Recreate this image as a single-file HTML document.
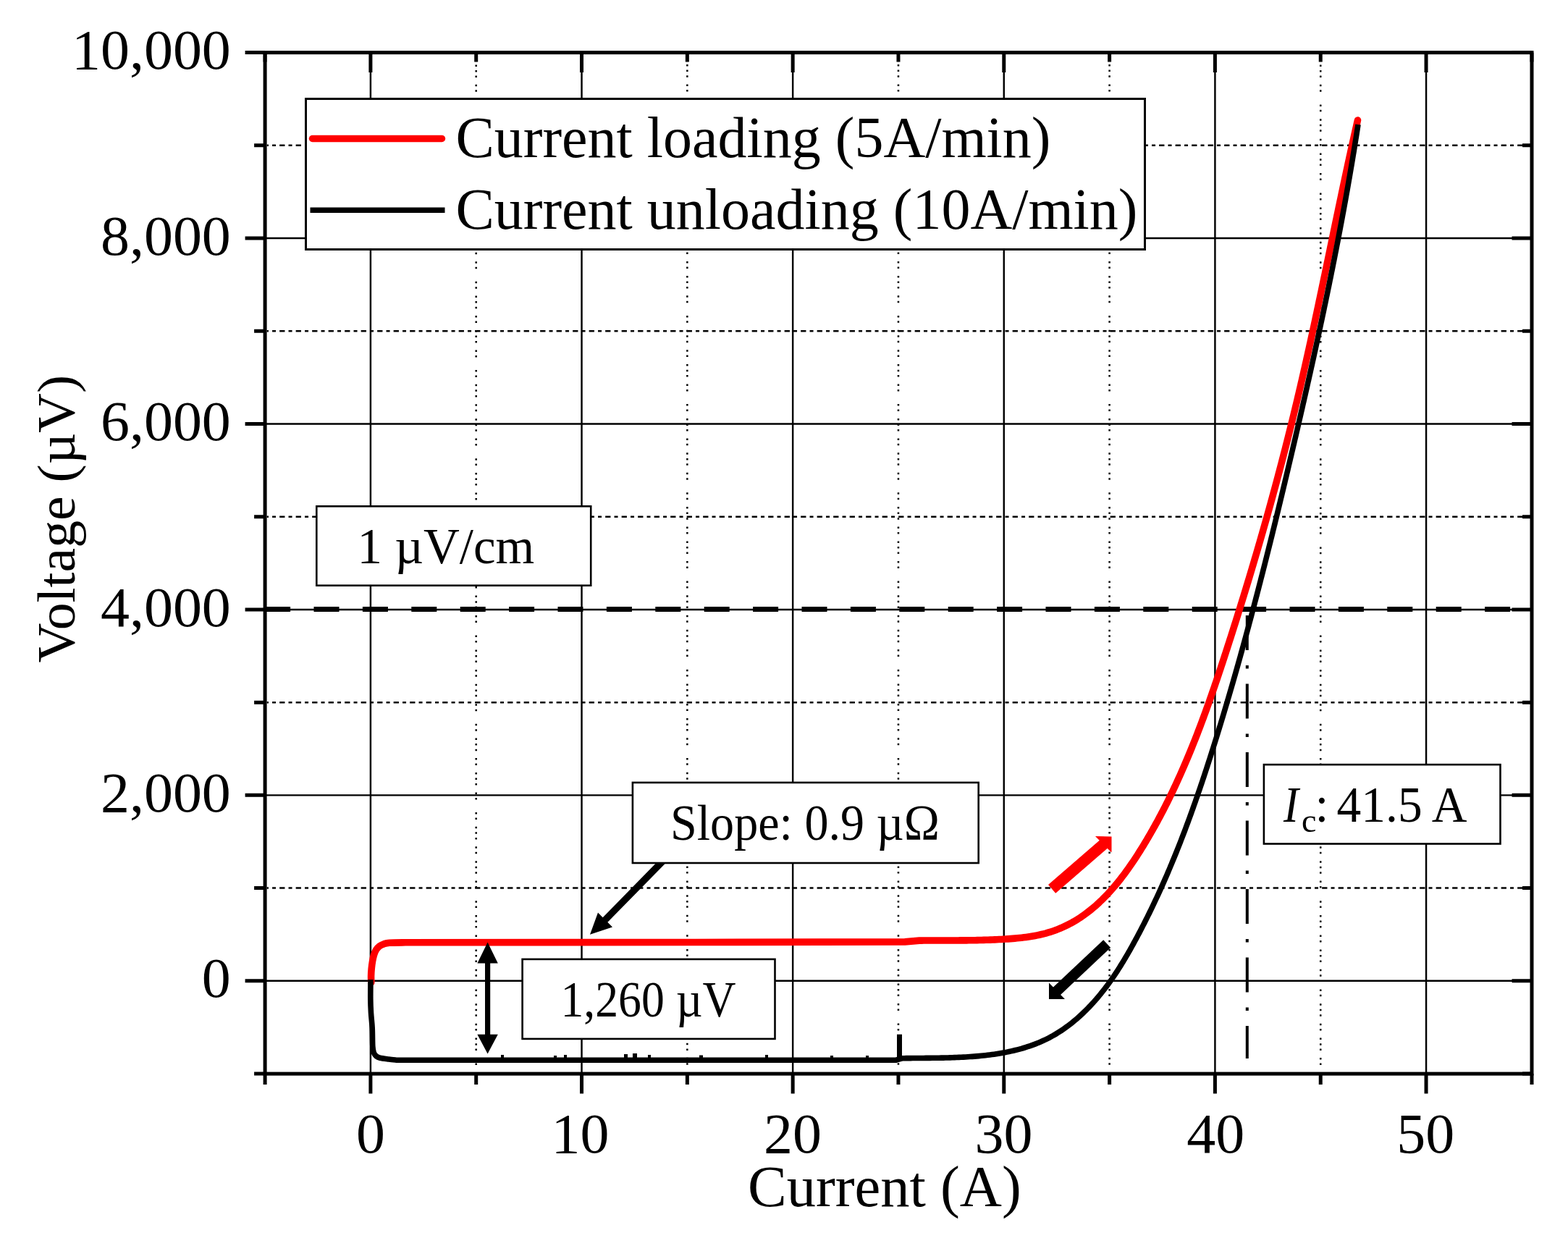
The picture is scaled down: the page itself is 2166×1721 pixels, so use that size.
<!DOCTYPE html>
<html><head><meta charset="utf-8"><title>Voltage vs Current</title>
<style>html,body{margin:0;padding:0;background:#fff;overflow:hidden;}svg{display:block;}</style></head>
<body>
<svg width="2166" height="1721" viewBox="0 0 2166 1721" font-family="'Liberation Serif', serif">
<rect width="2166" height="1721" fill="#fff"/>
<g stroke="#000" stroke-width="3" fill="none">
<path d="M657.71 75.1V1480.6" stroke-width="2.5" stroke-dasharray="2.5 4.9 2.5 9.9 2.5 5 2.5 5.1 2.5 9.9 2.5 4.9 2.5 10 2.5 5.1 2.5 4.9 2.5 9.9 2.5 5 2.5 17.6" stroke-dashoffset="52.9"/>
<path d="M949.35 75.1V1480.6" stroke-width="2.5" stroke-dasharray="2.5 4.9 2.5 9.9 2.5 5 2.5 5.1 2.5 9.9 2.5 4.9 2.5 10 2.5 5.1 2.5 4.9 2.5 9.9 2.5 5 2.5 17.6" stroke-dashoffset="5.8"/>
<path d="M1240.97 75.1V1480.6" stroke-width="2.5" stroke-dasharray="2.5 4.9 2.5 9.9 2.5 5 2.5 5.1 2.5 9.9 2.5 4.9 2.5 10 2.5 5.1 2.5 4.9 2.5 9.9 2.5 5 2.5 17.6" stroke-dashoffset="5.8"/>
<path d="M1532.61 75.1V1480.6" stroke-width="2.5" stroke-dasharray="2.5 4.9 2.5 9.9 2.5 5 2.5 5.1 2.5 9.9 2.5 4.9 2.5 10 2.5 5.1 2.5 4.9 2.5 9.9 2.5 5 2.5 17.6" stroke-dashoffset="5.8"/>
<path d="M1824.24 75.1V1480.6" stroke-width="2.5" stroke-dasharray="2.5 4.9 2.5 9.9 2.5 5 2.5 5.1 2.5 9.9 2.5 4.9 2.5 10 2.5 5.1 2.5 4.9 2.5 9.9 2.5 5 2.5 17.6" stroke-dashoffset="52.9"/>
<path d="M368.6 200.84H2113.5" stroke-width="2.5" stroke-dasharray="5 5.1 7.3 5.1" stroke-dashoffset="15.05"/>
<path d="M368.6 457.27H2113.5" stroke-width="2.5" stroke-dasharray="5 5.1 7.3 5.1" stroke-dashoffset="15.05"/>
<path d="M368.6 713.71H2113.5" stroke-width="2.5" stroke-dasharray="5 5.1 7.3 5.1" stroke-dashoffset="15.05"/>
<path d="M368.6 970.15H2113.5" stroke-width="2.5" stroke-dasharray="5 5.1 7.3 5.1" stroke-dashoffset="15.05"/>
<path d="M368.6 1226.58H2113.5" stroke-width="2.5" stroke-dasharray="5 5.1 7.3 5.1" stroke-dashoffset="15.05"/>
</g>
<g stroke="#000" stroke-width="2.45" fill="none">
<path d="M511.9 72.6V1483.1"/>
<path d="M803.53 72.6V1483.1"/>
<path d="M1095.16 72.6V1483.1"/>
<path d="M1386.79 72.6V1483.1"/>
<path d="M1678.42 72.6V1483.1"/>
<path d="M1970.05 72.6V1483.1"/>
<path d="M366.1 329.06H2116"/>
<path d="M366.1 585.49H2116"/>
<path d="M366.1 841.93H2116"/>
<path d="M366.1 1098.36H2116"/>
<path d="M366.1 1354.8H2116"/>
</g>
<path d="M366.1 841.4H2116" stroke="#000" stroke-width="7" stroke-dasharray="35 32.4" fill="none"/>
<path d="M1722.8 850V1462" stroke="#000" stroke-width="4" stroke-dasharray="48 21 4.5 21" fill="none"/>
<path d="M512.8 1357 C512.77 1355.5 512.53 1351.17 512.6 1348 C512.67 1344.83 512.88 1341.33 513.2 1338 C513.52 1334.67 513.95 1331.17 514.5 1328 C515.05 1324.83 515.67 1321.67 516.5 1319 C517.33 1316.33 518.25 1314 519.5 1312 C520.75 1310 522.25 1308.33 524 1307 C525.75 1305.67 527.67 1304.78 530 1304 C532.33 1303.22 533 1302.67 538 1302.3 C543 1301.93 556.33 1301.88 560 1301.8 L960 1301.5 L1250 1300.9 L1270.01 1299.11 L1273.04 1299.08 L1276.07 1299.06 L1279.08 1299.04 L1282.08 1299.02 L1285.08 1299.01 L1288.06 1299 L1291.04 1299 L1294.01 1298.99 L1296.97 1298.99 L1299.93 1298.98 L1302.89 1298.98 L1305.83 1298.98 L1308.78 1298.98 L1311.72 1298.97 L1314.66 1298.97 L1317.6 1298.96 L1320.54 1298.95 L1323.47 1298.94 L1326.41 1298.92 L1329.35 1298.9 L1332.29 1298.88 L1335.23 1298.85 L1338.18 1298.82 L1341.13 1298.78 L1344.08 1298.74 L1347.04 1298.69 L1350 1298.63 L1352.97 1298.57 L1355.95 1298.49 L1358.94 1298.41 L1361.93 1298.32 L1364.93 1298.23 L1367.95 1298.12 L1370.97 1298 L1374.01 1297.87 L1377.05 1297.73 L1380.11 1297.58 L1383.18 1297.42 L1386.27 1297.24 L1389.37 1297.05 L1392.48 1296.84 L1395.59 1296.62 L1398.71 1296.38 L1401.83 1296.11 L1404.96 1295.82 L1408.08 1295.51 L1411.2 1295.16 L1414.32 1294.79 L1417.42 1294.39 L1420.52 1293.96 L1423.6 1293.49 L1426.67 1292.98 L1429.73 1292.43 L1432.76 1291.85 L1435.77 1291.22 L1438.76 1290.54 L1441.73 1289.82 L1444.67 1289.06 L1447.57 1288.24 L1450.45 1287.37 L1453.29 1286.45 L1456.11 1285.49 L1458.9 1284.47 L1461.65 1283.4 L1464.38 1282.29 L1467.07 1281.13 L1469.74 1279.93 L1472.38 1278.68 L1474.99 1277.39 L1477.57 1276.05 L1480.13 1274.67 L1482.66 1273.25 L1485.16 1271.78 L1487.63 1270.28 L1490.08 1268.74 L1492.51 1267.15 L1494.9 1265.53 L1497.27 1263.87 L1499.62 1262.18 L1501.94 1260.44 L1504.24 1258.68 L1506.51 1256.88 L1508.76 1255.04 L1510.99 1253.17 L1513.19 1251.27 L1515.37 1249.33 L1517.53 1247.37 L1519.66 1245.37 L1521.77 1243.35 L1523.86 1241.3 L1525.93 1239.22 L1527.98 1237.11 L1530.01 1234.97 L1532.02 1232.81 L1534.01 1230.62 L1535.98 1228.41 L1537.93 1226.18 L1539.86 1223.92 L1541.77 1221.64 L1543.66 1219.34 L1545.54 1217.02 L1547.39 1214.68 L1549.23 1212.32 L1551.05 1209.94 L1552.86 1207.54 L1554.65 1205.13 L1556.42 1202.7 L1558.18 1200.26 L1559.92 1197.8 L1561.65 1195.32 L1563.36 1192.83 L1565.05 1190.34 L1566.74 1187.82 L1568.4 1185.3 L1570.06 1182.77 L1571.7 1180.23 L1573.33 1177.67 L1574.94 1175.11 L1576.54 1172.55 L1578.14 1169.97 L1579.71 1167.39 L1581.28 1164.81 L1582.84 1162.22 L1584.38 1159.63 L1585.92 1157.03 L1587.44 1154.42 L1588.95 1151.81 L1590.45 1149.2 L1591.94 1146.58 L1593.42 1143.96 L1594.89 1141.33 L1596.35 1138.7 L1597.8 1136.07 L1599.24 1133.43 L1600.66 1130.78 L1602.08 1128.13 L1603.49 1125.48 L1604.89 1122.82 L1606.28 1120.16 L1607.66 1117.5 L1609.03 1114.83 L1610.39 1112.16 L1611.74 1109.48 L1613.08 1106.8 L1614.41 1104.11 L1615.73 1101.42 L1617.05 1098.73 L1618.35 1096.04 L1619.65 1093.34 L1620.94 1090.63 L1622.22 1087.93 L1623.49 1085.21 L1624.75 1082.5 L1626 1079.78 L1627.25 1077.06 L1628.49 1074.34 L1629.72 1071.61 L1630.94 1068.88 L1632.15 1066.14 L1633.36 1063.41 L1634.56 1060.66 L1635.75 1057.92 L1636.93 1055.17 L1638.11 1052.42 L1639.28 1049.67 L1640.44 1046.91 L1641.6 1044.16 L1642.74 1041.39 L1643.89 1038.63 L1645.02 1035.86 L1646.15 1033.09 L1647.27 1030.32 L1648.38 1027.54 L1649.49 1024.77 L1650.6 1021.99 L1651.69 1019.2 L1652.78 1016.42 L1653.87 1013.63 L1654.95 1010.84 L1656.02 1008.05 L1657.09 1005.25 L1658.15 1002.45 L1659.2 999.66 L1660.25 996.85 L1661.3 994.05 L1662.34 991.24 L1663.38 988.44 L1664.41 985.63 L1665.43 982.82 L1666.45 980 L1667.47 977.19 L1668.48 974.37 L1669.49 971.55 L1670.49 968.73 L1671.49 965.91 L1672.48 963.09 L1673.47 960.26 L1674.46 957.43 L1675.44 954.61 L1676.42 951.78 L1677.39 948.94 L1678.36 946.11 L1679.33 943.28 L1680.29 940.44 L1681.25 937.61 L1682.21 934.77 L1683.17 931.93 L1684.12 929.09 L1685.07 926.25 L1686.01 923.41 L1686.95 920.57 L1687.89 917.72 L1688.83 914.88 L1689.77 912.03 L1690.7 909.19 L1691.63 906.34 L1692.56 903.49 L1693.48 900.64 L1694.41 897.79 L1695.33 894.94 L1696.25 892.09 L1697.17 889.24 L1698.09 886.39 L1699 883.54 L1699.92 880.69 L1700.83 877.84 L1701.74 874.99 L1702.65 872.13 L1703.56 869.28 L1704.46 866.42 L1705.37 863.57 L1706.27 860.72 L1707.17 857.86 L1708.07 855 L1708.96 852.15 L1709.86 849.29 L1710.75 846.43 L1711.65 843.58 L1712.54 840.72 L1713.43 837.86 L1714.31 835 L1715.2 832.14 L1716.08 829.28 L1716.96 826.42 L1717.84 823.56 L1718.72 820.7 L1719.6 817.83 L1720.47 814.97 L1721.34 812.11 L1722.21 809.24 L1723.08 806.38 L1723.95 803.51 L1724.82 800.65 L1725.68 797.78 L1726.54 794.92 L1727.4 792.05 L1728.26 789.18 L1729.12 786.32 L1729.97 783.45 L1730.83 780.58 L1731.68 777.71 L1732.53 774.84 L1733.37 771.97 L1734.22 769.1 L1735.06 766.23 L1735.91 763.36 L1736.75 760.48 L1737.58 757.61 L1738.42 754.74 L1739.25 751.87 L1740.09 748.99 L1740.92 746.12 L1741.75 743.24 L1742.57 740.36 L1743.4 737.49 L1744.22 734.61 L1745.04 731.73 L1745.86 728.86 L1746.68 725.98 L1747.49 723.1 L1748.31 720.22 L1749.12 717.34 L1749.93 714.46 L1750.74 711.58 L1751.54 708.7 L1752.35 705.81 L1753.15 702.93 L1753.95 700.05 L1754.74 697.16 L1755.54 694.28 L1756.33 691.39 L1757.13 688.51 L1757.92 685.62 L1758.7 682.74 L1759.49 679.85 L1760.27 676.96 L1761.06 674.07 L1761.83 671.18 L1762.61 668.3 L1763.39 665.41 L1764.16 662.52 L1764.93 659.62 L1765.7 656.73 L1766.47 653.84 L1767.24 650.95 L1768 648.06 L1768.76 645.16 L1769.52 642.27 L1770.28 639.37 L1771.03 636.48 L1771.79 633.58 L1772.54 630.68 L1773.29 627.79 L1774.03 624.89 L1774.78 621.99 L1775.52 619.09 L1776.26 616.19 L1777 613.29 L1777.74 610.39 L1778.47 607.49 L1779.2 604.59 L1779.93 601.69 L1780.66 598.78 L1781.38 595.88 L1782.11 592.98 L1782.83 590.07 L1783.55 587.17 L1784.27 584.26 L1784.98 581.35 L1785.69 578.45 L1786.4 575.54 L1787.11 572.63 L1787.82 569.72 L1788.52 566.81 L1789.22 563.9 L1789.92 560.99 L1790.62 558.08 L1791.32 555.17 L1792.01 552.26 L1792.7 549.34 L1793.39 546.43 L1794.07 543.52 L1794.76 540.6 L1795.44 537.69 L1796.12 534.77 L1796.8 531.85 L1797.47 528.94 L1798.15 526.02 L1798.82 523.1 L1799.49 520.18 L1800.15 517.26 L1800.82 514.34 L1801.48 511.42 L1802.15 508.5 L1802.81 505.58 L1803.47 502.66 L1804.12 499.74 L1804.78 496.82 L1805.43 493.89 L1806.08 490.97 L1806.73 488.05 L1807.38 485.12 L1808.03 482.2 L1808.68 479.27 L1809.32 476.35 L1809.96 473.42 L1810.6 470.5 L1811.24 467.57 L1811.88 464.64 L1812.52 461.72 L1813.16 458.79 L1813.79 455.86 L1814.42 452.93 L1815.06 450.01 L1815.69 447.08 L1816.32 444.15 L1816.95 441.22 L1817.57 438.29 L1818.2 435.36 L1818.83 432.43 L1819.45 429.5 L1820.08 426.57 L1820.7 423.64 L1821.32 420.71 L1821.94 417.78 L1822.56 414.85 L1823.18 411.92 L1823.8 408.98 L1824.42 406.05 L1825.03 403.12 L1825.65 400.19 L1826.27 397.26 L1826.88 394.32 L1827.5 391.39 L1828.11 388.46 L1828.72 385.53 L1829.34 382.59 L1829.95 379.66 L1830.56 376.73 L1831.17 373.8 L1831.79 370.86 L1832.4 367.93 L1833.01 365 L1833.62 362.07 L1834.23 359.13 L1834.84 356.2 L1835.45 353.27 L1836.06 350.33 L1836.67 347.4 L1837.28 344.47 L1837.89 341.54 L1838.49 338.6 L1839.1 335.67 L1839.71 332.74 L1840.32 329.8 L1840.93 326.87 L1841.54 323.94 L1842.15 321.01 L1842.76 318.08 L1843.37 315.14 L1843.98 312.21 L1844.59 309.28 L1845.2 306.35 L1845.81 303.42 L1846.43 300.49 L1847.04 297.56 L1847.65 294.62 L1848.26 291.69 L1848.88 288.76 L1849.49 285.83 L1850.1 282.9 L1850.72 279.97 L1851.34 277.04 L1851.95 274.11 L1852.57 271.19 L1853.19 268.26 L1853.8 265.33 L1854.42 262.4 L1855.04 259.47 L1855.66 256.55 L1856.29 253.62 L1856.91 250.69 L1857.53 247.76 L1858.16 244.84 L1858.78 241.91 L1859.41 238.99 L1860.04 236.06 L1860.66 233.14 L1861.29 230.21 L1861.92 227.29 L1862.56 224.37 L1863.19 221.44 L1863.82 218.52 L1864.46 215.6 L1865.1 212.68 L1865.73 209.75 L1866.37 206.83 L1867.01 203.91 L1867.66 200.99 L1868.3 198.07 L1868.95 195.16 L1869.59 192.24 L1870.24 189.32 L1870.89 186.4 L1871.54 183.49 L1872.19 180.57 L1872.85 177.65 L1873.51 174.74 L1874.16 171.82 L1874.82 168.91 L1875.49 166" stroke="#ff0000" stroke-width="9.6" fill="none" stroke-linejoin="round" stroke-linecap="round"/>
<path d="M512 1353 C511.97 1357.5 511.72 1372.33 511.8 1380 C511.88 1387.67 512.1 1392.33 512.5 1399 C512.9 1405.67 513.82 1412.33 514.2 1420 C514.58 1427.67 514.45 1439.33 514.8 1445 C515.15 1450.67 515.43 1451.67 516.3 1454 C517.17 1456.33 518.55 1457.78 520 1459 C521.45 1460.22 522.17 1460.63 525 1461.3 C527.83 1461.97 533.1 1462.52 537 1463 C540.9 1463.48 546.5 1464 548.4 1464.2 L1238 1464.2 L1246.02 1461.75 L1248.95 1461.7 L1251.89 1461.66 L1254.85 1461.62 L1257.81 1461.59 L1260.78 1461.56 L1263.77 1461.53 L1266.76 1461.51 L1269.76 1461.49 L1272.77 1461.46 L1275.78 1461.44 L1278.8 1461.41 L1281.83 1461.38 L1284.87 1461.35 L1287.91 1461.32 L1290.95 1461.28 L1294 1461.24 L1297.06 1461.19 L1300.11 1461.14 L1303.17 1461.08 L1306.23 1461.01 L1309.3 1460.93 L1312.36 1460.85 L1315.43 1460.75 L1318.5 1460.65 L1321.56 1460.53 L1324.63 1460.4 L1327.7 1460.26 L1330.76 1460.1 L1333.82 1459.93 L1336.88 1459.75 L1339.94 1459.55 L1342.99 1459.34 L1346.04 1459.1 L1349.09 1458.85 L1352.13 1458.59 L1355.16 1458.3 L1358.19 1457.99 L1361.21 1457.67 L1364.22 1457.32 L1367.23 1456.95 L1370.23 1456.56 L1373.22 1456.14 L1376.2 1455.7 L1379.18 1455.24 L1382.14 1454.75 L1385.09 1454.23 L1388.03 1453.69 L1390.96 1453.12 L1393.88 1452.52 L1396.79 1451.89 L1399.68 1451.23 L1402.56 1450.55 L1405.42 1449.83 L1408.27 1449.08 L1411.11 1448.3 L1413.93 1447.48 L1416.74 1446.63 L1419.52 1445.74 L1422.3 1444.82 L1425.05 1443.87 L1427.79 1442.88 L1430.5 1441.84 L1433.2 1440.78 L1435.88 1439.67 L1438.54 1438.52 L1441.18 1437.33 L1443.8 1436.11 L1446.4 1434.84 L1448.98 1433.52 L1451.53 1432.17 L1454.06 1430.77 L1456.57 1429.34 L1459.06 1427.86 L1461.53 1426.34 L1463.98 1424.79 L1466.4 1423.2 L1468.8 1421.57 L1471.19 1419.9 L1473.55 1418.2 L1475.89 1416.47 L1478.2 1414.69 L1480.5 1412.89 L1482.78 1411.05 L1485.03 1409.18 L1487.27 1407.28 L1489.48 1405.35 L1491.67 1403.38 L1493.85 1401.39 L1496 1399.37 L1498.13 1397.31 L1500.24 1395.24 L1502.33 1393.13 L1504.4 1391 L1506.44 1388.84 L1508.47 1386.66 L1510.48 1384.45 L1512.47 1382.22 L1514.44 1379.96 L1516.39 1377.69 L1518.31 1375.39 L1520.22 1373.07 L1522.11 1370.73 L1523.98 1368.37 L1525.83 1365.99 L1527.66 1363.59 L1529.46 1361.18 L1531.25 1358.75 L1533.02 1356.3 L1534.77 1353.84 L1536.51 1351.36 L1538.22 1348.87 L1539.91 1346.36 L1541.59 1343.84 L1543.25 1341.31 L1544.89 1338.77 L1546.51 1336.21 L1548.12 1333.64 L1549.72 1331.07 L1551.3 1328.48 L1552.86 1325.88 L1554.41 1323.28 L1555.95 1320.66 L1557.47 1318.04 L1558.99 1315.41 L1560.49 1312.78 L1561.98 1310.14 L1563.45 1307.49 L1564.92 1304.84 L1566.38 1302.18 L1567.83 1299.52 L1569.27 1296.86 L1570.7 1294.19 L1572.12 1291.52 L1573.54 1288.85 L1574.95 1286.17 L1576.34 1283.5 L1577.73 1280.81 L1579.11 1278.13 L1580.49 1275.44 L1581.85 1272.75 L1583.21 1270.06 L1584.56 1267.36 L1585.9 1264.67 L1587.23 1261.96 L1588.56 1259.26 L1589.87 1256.55 L1591.18 1253.84 L1592.49 1251.13 L1593.78 1248.42 L1595.07 1245.7 L1596.35 1242.98 L1597.62 1240.26 L1598.89 1237.53 L1600.15 1234.8 L1601.4 1232.07 L1602.64 1229.34 L1603.88 1226.6 L1605.11 1223.86 L1606.33 1221.12 L1607.55 1218.38 L1608.76 1215.63 L1609.96 1212.89 L1611.15 1210.14 L1612.34 1207.38 L1613.53 1204.63 L1614.7 1201.87 L1615.87 1199.11 L1617.04 1196.35 L1618.19 1193.59 L1619.34 1190.82 L1620.49 1188.05 L1621.63 1185.28 L1622.76 1182.51 L1623.89 1179.73 L1625.01 1176.96 L1626.12 1174.18 L1627.23 1171.4 L1628.34 1168.61 L1629.44 1165.83 L1630.53 1163.04 L1631.61 1160.25 L1632.7 1157.46 L1633.77 1154.67 L1634.84 1151.87 L1635.91 1149.08 L1636.97 1146.28 L1638.02 1143.48 L1639.07 1140.68 L1640.12 1137.87 L1641.16 1135.07 L1642.19 1132.26 L1643.22 1129.45 L1644.25 1126.64 L1645.27 1123.83 L1646.28 1121.01 L1647.29 1118.2 L1648.3 1115.38 L1649.3 1112.56 L1650.3 1109.74 L1651.3 1106.92 L1652.28 1104.09 L1653.27 1101.27 L1654.25 1098.44 L1655.23 1095.61 L1656.2 1092.78 L1657.17 1089.95 L1658.13 1087.12 L1659.09 1084.28 L1660.05 1081.45 L1661.01 1078.61 L1661.96 1075.77 L1662.9 1072.94 L1663.84 1070.09 L1664.78 1067.25 L1665.72 1064.41 L1666.65 1061.57 L1667.58 1058.72 L1668.51 1055.87 L1669.43 1053.03 L1670.35 1050.18 L1671.27 1047.33 L1672.18 1044.48 L1673.09 1041.63 L1674 1038.77 L1674.9 1035.92 L1675.81 1033.07 L1676.71 1030.21 L1677.6 1027.35 L1678.5 1024.5 L1679.39 1021.64 L1680.28 1018.78 L1681.17 1015.92 L1682.05 1013.06 L1682.94 1010.2 L1683.82 1007.33 L1684.7 1004.47 L1685.57 1001.61 L1686.44 998.74 L1687.32 995.87 L1688.19 993.01 L1689.05 990.14 L1689.92 987.27 L1690.78 984.4 L1691.64 981.53 L1692.5 978.66 L1693.35 975.79 L1694.21 972.92 L1695.06 970.05 L1695.91 967.17 L1696.75 964.3 L1697.6 961.42 L1698.44 958.55 L1699.28 955.67 L1700.12 952.8 L1700.96 949.92 L1701.79 947.04 L1702.63 944.16 L1703.46 941.28 L1704.28 938.4 L1705.11 935.52 L1705.94 932.64 L1706.76 929.75 L1707.58 926.87 L1708.4 923.99 L1709.21 921.1 L1710.03 918.22 L1710.84 915.33 L1711.65 912.44 L1712.46 909.56 L1713.27 906.67 L1714.07 903.78 L1714.88 900.89 L1715.68 898 L1716.48 895.11 L1717.28 892.22 L1718.07 889.33 L1718.87 886.44 L1719.66 883.54 L1720.45 880.65 L1721.24 877.76 L1722.03 874.86 L1722.81 871.97 L1723.6 869.07 L1724.38 866.18 L1725.16 863.28 L1725.94 860.38 L1726.72 857.49 L1727.49 854.59 L1728.27 851.69 L1729.04 848.79 L1729.81 845.89 L1730.58 842.99 L1731.35 840.09 L1732.11 837.19 L1732.88 834.29 L1733.64 831.39 L1734.4 828.48 L1735.16 825.58 L1735.92 822.68 L1736.68 819.77 L1737.43 816.87 L1738.18 813.96 L1738.94 811.06 L1739.69 808.15 L1740.44 805.25 L1741.19 802.34 L1741.93 799.43 L1742.68 796.53 L1743.42 793.62 L1744.17 790.71 L1744.91 787.8 L1745.65 784.89 L1746.39 781.98 L1747.12 779.07 L1747.86 776.16 L1748.59 773.25 L1749.33 770.34 L1750.06 767.43 L1750.79 764.52 L1751.52 761.61 L1752.25 758.7 L1752.98 755.78 L1753.7 752.87 L1754.43 749.96 L1755.15 747.04 L1755.87 744.13 L1756.6 741.22 L1757.32 738.3 L1758.04 735.39 L1758.75 732.47 L1759.47 729.56 L1760.19 726.64 L1760.9 723.73 L1761.62 720.81 L1762.33 717.89 L1763.04 714.98 L1763.75 712.06 L1764.46 709.14 L1765.17 706.23 L1765.88 703.31 L1766.59 700.39 L1767.29 697.47 L1768 694.56 L1768.7 691.64 L1769.4 688.72 L1770.11 685.8 L1770.81 682.88 L1771.51 679.96 L1772.21 677.04 L1772.91 674.12 L1773.61 671.21 L1774.3 668.29 L1775 665.37 L1775.69 662.45 L1776.39 659.53 L1777.08 656.61 L1777.78 653.69 L1778.47 650.76 L1779.16 647.84 L1779.85 644.92 L1780.54 642 L1781.23 639.08 L1781.92 636.16 L1782.61 633.24 L1783.3 630.32 L1783.99 627.4 L1784.67 624.48 L1785.36 621.55 L1786.04 618.63 L1786.73 615.71 L1787.41 612.79 L1788.09 609.87 L1788.78 606.95 L1789.46 604.02 L1790.14 601.1 L1790.82 598.18 L1791.5 595.26 L1792.18 592.34 L1792.86 589.41 L1793.53 586.49 L1794.21 583.57 L1794.89 580.64 L1795.56 577.72 L1796.23 574.8 L1796.91 571.88 L1797.58 568.95 L1798.25 566.03 L1798.92 563.11 L1799.59 560.18 L1800.26 557.26 L1800.93 554.33 L1801.6 551.41 L1802.26 548.49 L1802.93 545.56 L1803.59 542.64 L1804.26 539.71 L1804.92 536.79 L1805.58 533.86 L1806.24 530.94 L1806.9 528.01 L1807.56 525.09 L1808.21 522.16 L1808.87 519.23 L1809.53 516.31 L1810.18 513.38 L1810.83 510.46 L1811.49 507.53 L1812.14 504.6 L1812.79 501.67 L1813.44 498.75 L1814.08 495.82 L1814.73 492.89 L1815.38 489.96 L1816.02 487.04 L1816.66 484.11 L1817.3 481.18 L1817.95 478.25 L1818.58 475.32 L1819.22 472.39 L1819.86 469.46 L1820.5 466.54 L1821.13 463.61 L1821.76 460.68 L1822.4 457.75 L1823.03 454.81 L1823.66 451.88 L1824.29 448.95 L1824.91 446.02 L1825.54 443.09 L1826.16 440.16 L1826.79 437.23 L1827.41 434.3 L1828.03 431.36 L1828.65 428.43 L1829.26 425.5 L1829.88 422.56 L1830.5 419.63 L1831.11 416.7 L1831.72 413.76 L1832.33 410.83 L1832.94 407.89 L1833.55 404.96 L1834.16 402.02 L1834.76 399.09 L1835.36 396.15 L1835.97 393.22 L1836.57 390.28 L1837.16 387.35 L1837.76 384.41 L1838.36 381.47 L1838.95 378.53 L1839.54 375.6 L1840.13 372.66 L1840.72 369.72 L1841.31 366.78 L1841.9 363.84 L1842.48 360.9 L1843.07 357.96 L1843.65 355.02 L1844.23 352.08 L1844.8 349.14 L1845.38 346.2 L1845.96 343.26 L1846.53 340.32 L1847.1 337.38 L1847.67 334.44 L1848.24 331.49 L1848.8 328.55 L1849.37 325.61 L1849.93 322.66 L1850.49 319.72 L1851.05 316.77 L1851.61 313.83 L1852.16 310.88 L1852.72 307.94 L1853.27 304.99 L1853.82 302.05 L1854.37 299.1 L1854.91 296.15 L1855.46 293.21 L1856 290.26 L1856.54 287.31 L1857.08 284.36 L1857.62 281.41 L1858.15 278.46 L1858.68 275.51 L1859.21 272.56 L1859.74 269.61 L1860.27 266.66 L1860.8 263.71 L1861.32 260.76 L1861.84 257.81 L1862.36 254.85 L1862.88 251.9 L1863.39 248.95 L1863.9 245.99 L1864.42 243.04 L1864.92 240.09 L1865.43 237.13 L1865.94 234.18 L1866.44 231.22 L1866.94 228.26 L1867.44 225.31 L1867.93 222.35 L1868.43 219.39 L1868.92 216.43 L1869.41 213.47 L1869.9 210.51 L1870.38 207.56 L1870.87 204.6 L1871.35 201.63 L1871.83 198.67 L1872.3 195.71 L1872.78 192.75 L1873.25 189.79 L1873.72 186.83 L1874.19 183.86 L1874.65 180.9 L1875.12 177.93 L1875.58 174.97 L1876.03 172" stroke="#000" stroke-width="7.6" fill="none" stroke-linejoin="round" stroke-linecap="butt"/>
<rect x="1239" y="1428.7" width="7" height="34" fill="#000"/>
<rect x="692" y="1457" width="4" height="4" fill="#000"/>
<rect x="765" y="1458" width="4" height="3" fill="#000"/>
<rect x="779" y="1457" width="4" height="4" fill="#000"/>
<rect x="862" y="1456" width="5" height="5" fill="#000"/>
<rect x="874" y="1455" width="6" height="6" fill="#000"/>
<rect x="895" y="1457" width="4" height="4" fill="#000"/>
<rect x="966" y="1457.5" width="5" height="3.5" fill="#000"/>
<rect x="1057" y="1457" width="4" height="4" fill="#000"/>
<rect x="1147" y="1458" width="4" height="3" fill="#000"/>
<rect x="1196" y="1458" width="4" height="3" fill="#000"/>
<rect x="422.5" y="136.5" width="1159" height="208" fill="#fff" stroke="#000" stroke-width="3"/>
<path d="M431.5 191.5H610.5" stroke="#ff0000" stroke-width="9.5" stroke-linecap="round"/>
<path d="M428.5 290.2H614.5" stroke="#000" stroke-width="7.6"/>
<text x="629.41" y="216.9" font-size="80">Current loading (5A/min)</text>
<text x="629.41" y="316.2" font-size="80">Current unloading (10A/min)</text>
<rect x="437.3" y="699.3" width="378.9" height="109.4" fill="#fff" stroke="#000" stroke-width="2.6"/>
<text x="493.42" y="778.4" font-size="69">1 µV/cm</text>
<path d="M915.14 1183.07 L832.68 1267.18 L826 1260.5 L815 1290.8 L846 1280.5 L839.32 1273.82 L921.86 1189.65Z" fill="#000"/>
<rect x="873.9" y="1080.9" width="477.8" height="111.1" fill="#fff" stroke="#000" stroke-width="2.6"/>
<text x="925.98" y="1159.5" font-size="69" textLength="371.84" lengthAdjust="spacingAndGlyphs">Slope: 0.9 µΩ</text>
<rect x="721.6" y="1324.9" width="348.9" height="110" fill="#fff" stroke="#000" stroke-width="2.6"/>
<text x="774.4" y="1404.1" font-size="69" textLength="242.12" lengthAdjust="spacingAndGlyphs">1,260 µV</text>
<rect x="1745.9" y="1056.1" width="326.6" height="109.4" fill="#fff" stroke="#000" stroke-width="2.6"/>
<text x="1773.04" y="1134.6" font-size="69" font-style="italic" textLength="20.81" lengthAdjust="spacingAndGlyphs">I</text>
<text x="1797.95" y="1149" font-size="46">c</text>
<text x="1816.62" y="1134.6" font-size="69" textLength="18.89" lengthAdjust="spacingAndGlyphs">:</text>
<text x="1846.61" y="1134.6" font-size="69" textLength="179.87" lengthAdjust="spacingAndGlyphs">41.5 A</text>
<path d="M673.6 1301.5L687.8 1330.5L677.2 1330.5L677.2 1428.7L687.8 1428.7L673.6 1455.5L659.4 1428.7L670 1428.7L670 1330.5L659.4 1330.5Z" fill="#000"/>
<path d="M1458.18 1233.76 L1529.74 1171.74 L1535.5 1177.5 L1535.5 1155.5 L1513 1155 L1518.76 1160.76 L1448.02 1222.04Z" fill="#ff0000"/>
<path d="M1524.23 1298.32 L1454.93 1363.57 L1449 1357.5 L1449 1380 L1471 1380 L1465.07 1373.93 L1534.17 1308.88Z" fill="#000"/>
<g stroke="#000" stroke-width="5" fill="none" stroke-linecap="butt">
<rect x="366.1" y="72.6" width="1749.9" height="1410.5"/>
<path d="M351.1 1483.1H366.1M2116 1483.1H2103M338.6 1354.8H366.1M2116 1354.8H2088.5M351.1 1226.58H366.1M2116 1226.58H2103M338.6 1098.36H366.1M2116 1098.36H2088.5M351.1 970.15H366.1M2116 970.15H2103M338.6 841.93H366.1M2116 841.93H2088.5M351.1 713.71H366.1M2116 713.71H2103M338.6 585.49H366.1M2116 585.49H2088.5M351.1 457.27H366.1M2116 457.27H2103M338.6 329.06H366.1M2116 329.06H2088.5M351.1 200.84H366.1M2116 200.84H2103M338.6 72.6H366.1M2116 72.6H2088.5M366.1 1483.1V1498.1M366.1 72.6V85.6M511.9 1483.1V1510.6M511.9 72.6V100.1M657.71 1483.1V1498.1M657.71 72.6V85.6M803.53 1483.1V1510.6M803.53 72.6V100.1M949.35 1483.1V1498.1M949.35 72.6V85.6M1095.16 1483.1V1510.6M1095.16 72.6V100.1M1240.97 1483.1V1498.1M1240.97 72.6V85.6M1386.79 1483.1V1510.6M1386.79 72.6V100.1M1532.61 1483.1V1498.1M1532.61 72.6V85.6M1678.42 1483.1V1510.6M1678.42 72.6V100.1M1824.24 1483.1V1498.1M1824.24 72.6V85.6M1970.05 1483.1V1510.6M1970.05 72.6V100.1M2116 1483.1V1498.1M2116 72.6V85.6"/>
</g>
<text x="98.98" y="95.2" font-size="78" textLength="219.86" lengthAdjust="spacingAndGlyphs">10,000</text>
<text x="138.96" y="351.66" font-size="78" textLength="179.89" lengthAdjust="spacingAndGlyphs">8,000</text>
<text x="138.96" y="608.09" font-size="78" textLength="179.89" lengthAdjust="spacingAndGlyphs">6,000</text>
<text x="138.96" y="864.53" font-size="78" textLength="179.89" lengthAdjust="spacingAndGlyphs">4,000</text>
<text x="138.96" y="1120.96" font-size="78" textLength="179.89" lengthAdjust="spacingAndGlyphs">2,000</text>
<text x="278.87" y="1377.4" font-size="78" textLength="39.97" lengthAdjust="spacingAndGlyphs">0</text>
<text x="491.91" y="1592.2" font-size="78" textLength="39.97" lengthAdjust="spacingAndGlyphs">0</text>
<text x="761.56" y="1592.2" font-size="78" textLength="79.95" lengthAdjust="spacingAndGlyphs">10</text>
<text x="1054.95" y="1592.2" font-size="78" textLength="79.95" lengthAdjust="spacingAndGlyphs">20</text>
<text x="1346.42" y="1592.2" font-size="78" textLength="79.95" lengthAdjust="spacingAndGlyphs">30</text>
<text x="1639.19" y="1592.2" font-size="78" textLength="79.95" lengthAdjust="spacingAndGlyphs">40</text>
<text x="1929.27" y="1592.2" font-size="78" textLength="79.95" lengthAdjust="spacingAndGlyphs">50</text>
<text x="1032.99" y="1665.7" font-size="80.5">Current (A)</text>
<text transform="translate(103.3 915.23) rotate(-90)" font-size="74" textLength="397.48" lengthAdjust="spacingAndGlyphs">Voltage (µV)</text>
</svg>
</body></html>
